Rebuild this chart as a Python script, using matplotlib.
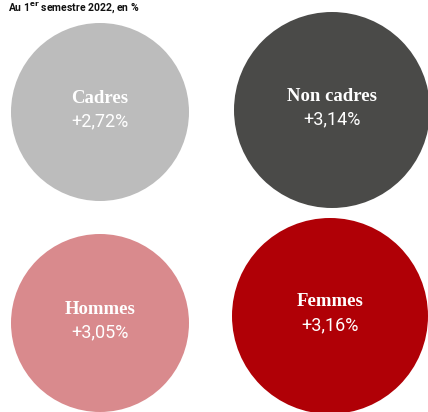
import matplotlib.pyplot as plt
from matplotlib.patches import Circle

# data
labels = ["Cadres", "Non cadres", "Hommes", "Femmes"]
values = [2.72, 3.14, 3.05, 3.16]
colors = ["#bcbcbc", "#4a4a48", "#d98a8d", "#b00006"]
title = "Au 1$^{\\mathbf{er}}$ semestre 2022, en %"

# layout (pixels, y down)
centers = [(100, 112), (332, 110), (100, 323), (330, 316)]
r_small, r_large = 89, 98

fig = plt.figure(figsize=(4.28, 4.12), dpi=100)
ax = fig.add_axes([0, 0, 1, 1])
ax.set_xlim(0, 428)
ax.set_ylim(412, 0)
ax.set_aspect("equal")
ax.axis("off")

for i, (label, value, color, (cx, cy)) in enumerate(zip(labels, values, colors, centers)):
    pair = values[(i // 2) * 2:(i // 2) * 2 + 2]
    r = r_large if value == max(pair) else r_small
    ax.add_patch(Circle((cx, cy), r, color=color, lw=0))
    ax.text(cx, cy - 14, label, ha="center", va="center", color="white",
            fontsize=13.5, fontweight="bold", family="Liberation Serif")
    ax.text(cx, cy + 9, "+" + f"{value:.2f}".replace(".", ",") + "%", ha="center",
            va="center", color="white", fontsize=13, fontweight="normal",
            family=["Roboto", "DejaVu Sans"])

ax.text(8, 0, title, ha="left", va="top", color="#111111", fontsize=7.5,
        fontweight="bold", family=["Roboto", "DejaVu Sans"])

fig.savefig("out.png", dpi=100)
